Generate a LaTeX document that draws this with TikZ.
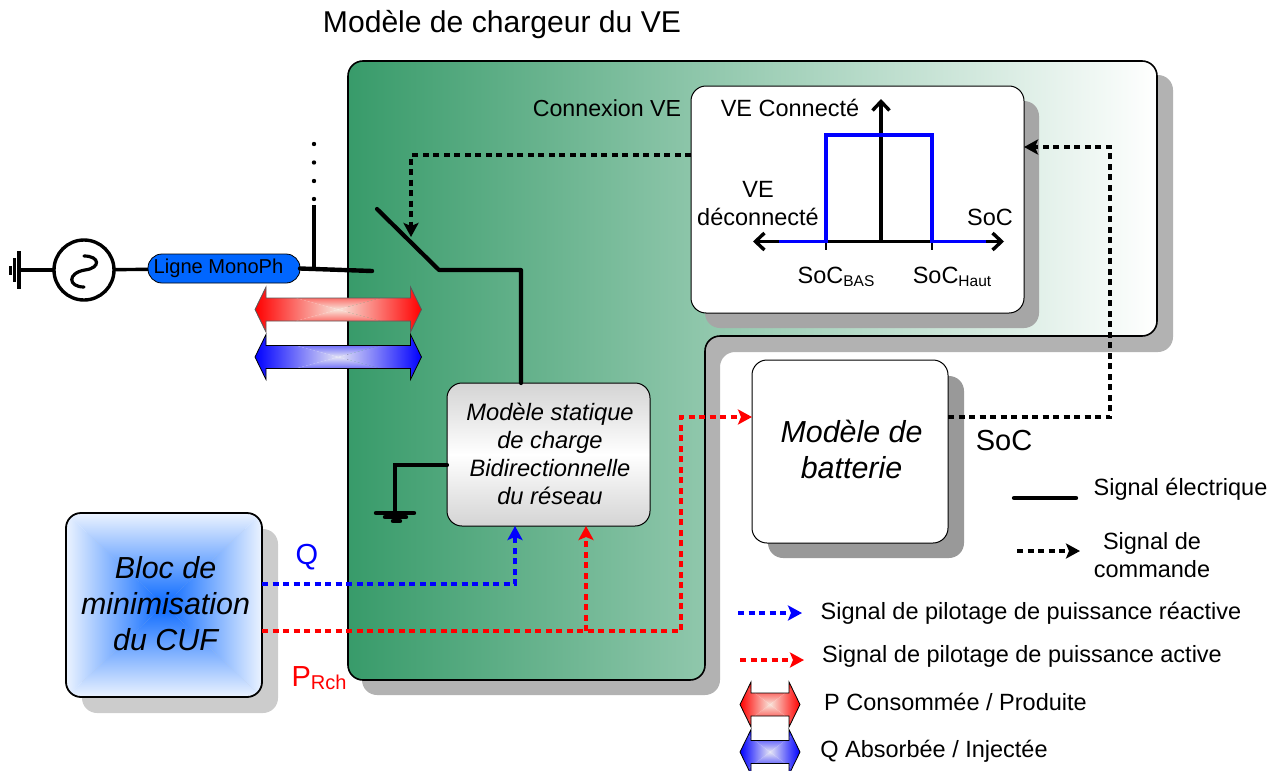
\documentclass[tikz,border=0pt]{standalone}
\usepackage{fontspec}
\setmainfont{Liberation Sans}
\usetikzlibrary{arrows.meta,calc}
\newcommand{\fsz}[2]{\fontsize{#1}{#2}\selectfont}
\newcommand{\rectgrad}[6]{% x1 y1 x2 y2 outer inner
  \shade[top color=#5,bottom color=#6] (#1,#2) -- (#3,#2) -- ({(#1+#3)/2},{(#2+#4)/2}) -- cycle;
  \shade[top color=#6,bottom color=#5] (#1,#4) -- (#3,#4) -- ({(#1+#3)/2},{(#2+#4)/2}) -- cycle;
  \shade[left color=#5,right color=#6] (#1,#2) -- (#1,#4) -- ({(#1+#3)/2},{(#2+#4)/2}) -- cycle;
  \shade[left color=#6,right color=#5] (#3,#2) -- (#3,#4) -- ({(#1+#3)/2},{(#2+#4)/2}) -- cycle;
}
\newcommand{\dblarrowpath}[3]{(#1,#3) -- (#1+11,#3-22.5) -- (#1+11,#3-11.5) -- (#2-11,#3-11.5) -- (#2-11,#3-22.5) -- (#2,#3) -- (#2-11,#3+22.5) -- (#2-11,#3+11.5) -- (#1+11,#3+11.5) -- (#1+11,#3+22.5) -- cycle}
\newcommand{\dblarrow}[6]{% x1 x2 cy outer inner draw
  \begin{scope}
  \clip \dblarrowpath{#1}{#2}{#3};
  \rectgrad{#1}{#3-22.5}{#2}{#3+22.5}{#4}{#5}
  \end{scope}
  \draw[#6,line width=.8pt] \dblarrowpath{#1}{#2}{#3};
}
\definecolor{gA}{RGB}{56,155,106}
\definecolor{shdA}{RGB}{178,178,178}
\definecolor{shdB}{RGB}{166,166,166}
\definecolor{shdC}{RGB}{153,153,153}
\definecolor{shdD}{RGB}{204,204,204}
\definecolor{pill}{RGB}{0,102,255}
\definecolor{midblue}{RGB}{10,105,255}
\definecolor{edgeblue}{RGB}{235,243,255}
\definecolor{redc}{RGB}{248,228,218}
\definecolor{bluec}{RGB}{228,228,245}
\tikzset{
  every node/.style={inner sep=0pt,outer sep=0pt,font=\fsz{23.5}{28},align=center},
  ctrlline/.style={line width=3.4pt,dash pattern=on 6pt off 4.5pt},
  tipA/.style={-{Stealth[length=14pt,width=15pt,inset=3pt]}},
  barbs/.style={>={Straight Barb[length=9pt,width=17pt,line width=3.4pt]}},
  box/.style={draw=black,line width=1pt,rounded corners=15pt,fill=white},
}
\begin{document}
\begin{tikzpicture}[x=1pt,y=-1pt]
\useasboundingbox (0,0) rectangle (1283,771);
% outer L shadow and body
\fill[shdA,rounded corners=15pt] (362,75) -- (1173,75) -- (1173,352) -- (720,352) -- (720,695) -- (362,695) -- cycle;
\shade[left color=gA,right color=white,rounded corners=15pt] (348,61) -- (1157,61) -- (1157,336) -- (705,336) -- (705,680) -- (348,680) -- cycle;
\draw[black,line width=1.6pt,rounded corners=15pt] (348,61) -- (1157,61) -- (1157,336) -- (705,336) -- (705,680) -- (348,680) -- cycle;
% title
\node[font=\fsz{30.1}{36}] (title) at (502,25) {Modèle de chargeur du VE};
\node[font=\fsz{23.2}{28}] (cx) at (607,108) {Connexion VE};
% shadows
\fill[shdB,rounded corners=15pt] (705,101) rectangle (1039,328);
\fill[shdC,rounded corners=15pt] (768,376) rectangle (964,558);
\fill[shdD,rounded corners=15pt] (82,529) rectangle (278,713);
% VE box
\node[box,minimum width=333pt,minimum height=227pt] (ve) at (857.5,199.5) {};
% Graph
\coordinate (axL) at (753,241.5);
\coordinate (axR) at (1004,241.5);
\coordinate (ax0) at (881,241.5);
\coordinate (axT) at (881,99);
\draw[line width=1.5pt] (826,241.5) -- (826,250);
\draw[line width=1.5pt] (932,241.5) -- (932,250);
\draw[line width=3.4pt,barbs,<->] (axL) -- (axR);
\draw[line width=3.4pt,barbs,->] (ax0) -- (axT);
\draw[line width=3.8pt,blue,line join=miter] (779,241.5) -- (826,241.5) -- (826,135) -- (932,135) -- (932,241.5) -- (986,241.5);
\node (l1) at (790,108) {VE Connecté};
\node (l2) at (758,204) {VE\\déconnecté};
\node (l3) at (990,217) {SoC};
\node (l4) at (836,277) {SoC\fontsize{15.5}{18}\selectfont\raisebox{-3pt}{BAS}};
\node (l5) at (952,277) {SoC\fontsize{15.5}{18}\selectfont\raisebox{-3pt}{Haut}};
% Battery
\node[box,minimum width=196pt,minimum height=183pt] (bat) at (850,451.5) {};
\node[font=\fsz{30.4}{36}\itshape] (battxt) at (851.5,449.5) {Modèle de\\batterie};
% static model
\node[draw=black,line width=1pt,rounded corners=15pt,minimum width=203pt,minimum height=143pt,top color=black!17,bottom color=black!17,middle color=white] (stat) at (548.5,454.5) {};
\node[font=\fsz{23.7}{28}\itshape] (stattxt) at (550,453.5) {Modèle statique\\de charge\\Bidirectionnelle\\du réseau};
% Bloc
\begin{scope}
\clip[rounded corners=15pt] (66,513) rectangle (262,697);
\rectgrad{66}{513}{262}{697}{edgeblue}{midblue}
\end{scope}
\node[draw=black,line width=1.8pt,rounded corners=15pt,minimum width=196pt,minimum height=184pt] (bloc) at (164,605) {};
\node[font=\fsz{30.4}{36}\itshape] (bloctxt) at (165.5,604) {Bloc de\\minimisation\\du CUF};
% Source
\node[draw=black,circle,line width=3.4pt,minimum size=60pt] (src) at (84,270) {};
\draw[line width=3.2pt,line cap=round] (84,256) .. controls (100,256) and (101,268) .. (85,270) .. controls (67,273) and (68,287) .. (84,287);
\coordinate (g0) at (19,270);
\draw[line width=3.4pt] (g0) -- (src);
\draw[line width=3.4pt] (19,251) -- (19,289);
\draw[line width=3.4pt] (14.5,258) -- (14.5,282);
\draw[line width=3.4pt] (10.5,266) -- (10.5,275);
\node[draw=black,fill=pill,line width=.8pt,rounded corners=14pt,minimum width=152pt,minimum height=29pt] (ligne) at (224,268.5) {};
\node[font=\fsz{20.1}{24}] (lignetxt) at (218.5,268.5) {Ligne MonoPh};
\draw[line width=3.4pt] (src) -- (ligne);
\coordinate (busend) at (372,271);
\draw[line width=4.4pt,line cap=round] (ligne.east) -- (busend);
\draw[line width=3.2pt] (314,270) -- (314,205);
\foreach \yy in {144,162.5,181,199} \fill (314,\yy) circle (2.2pt);
% switch
\coordinate (sw0) at (377,209);
\coordinate (sw1) at (439,270);
\coordinate (sw2) at (521,270);
\draw[line width=4.2pt,line cap=round,line join=round] (sw0) -- (sw1) -- (sw2) -- (sw2 |- stat.north);
% ground under model
\coordinate (gnd) at (395,513);
\draw[line width=4.2pt,line cap=round] (stat.west |- 0,465) -- (395,465) -- (gnd);
\draw[line width=4.4pt,line cap=round] (376,513) -- (414,513);
\draw[line width=4.4pt,line cap=round] (385,517) -- (406,517);
\draw[line width=4.4pt,line cap=round] (393,521) -- (400,521);
% double arrows
\dblarrow{255}{421.5}{309.5}{red}{redc}{black!65}
\dblarrow{255}{421.5}{357}{blue}{bluec}{black}
\dblarrow{740}{800}{704.5}{red}{redc}{black}
\dblarrow{740}{800}{752}{blue}{bluec}{black}
% control
\coordinate (c1) at (411,155);
\coordinate (c2) at (411,237);
\draw[ctrlline,tipA] (ve.west |- c1) -- (c1) -- (c2);
\coordinate (b1) at (1110,417);
\coordinate (b2) at (1110,147);
\draw[ctrlline,tipA] (bat.east |- b1) -- (b1) -- (b2) -- (ve.east |- b2);
% signals
\coordinate (q1) at (515,584);
\draw[ctrlline,blue,tipA] (bloc.east |- q1) -- (q1) -- (q1 |- stat.south);
\coordinate (r1) at (681,631);
\coordinate (r2) at (681,417);
\coordinate (r3) at (586,631);
\draw[ctrlline,red,tipA] (bloc.east |- r1) -- (r1) -- (r2) -- (bat.west |- r2);
\draw[ctrlline,red,tipA] (r3) -- (r3 |- stat.south);
\node[text=blue,font=\fsz{29}{34}] (qlab) at (307,557) {Q};
\node[text=red,font=\fsz{29}{34}] (plab) at (319,678) {P\fontsize{20}{24}\selectfont\raisebox{-3pt}{Rch}};
\node[font=\fsz{29}{34}] (soc) at (1004,441) {SoC};
% legend
\coordinate (a1) at (1014,498); \coordinate (a2) at (1076,498);
\draw[line width=4.4pt,line cap=round] (a1) -- (a2);
\node (t1) at (1180.5,489.5) {Signal électrique};
\coordinate (a3) at (1017,551); \coordinate (a4) at (1080,551);
\draw[ctrlline,tipA] (a3) -- (a4);
\node (t2) at (1152,555) {Signal de\\commande};
\coordinate (a5) at (738,613); \coordinate (a6) at (802,613);
\draw[ctrlline,blue,tipA] (a5) -- (a6);
\node (t3) at (1031,613.5) {Signal de pilotage de puissance réactive};
\node (t4) at (1022,656.5) {Signal de pilotage de puissance active};
\coordinate (a7) at (740,660); \coordinate (a8) at (804,660);
\draw[ctrlline,red,tipA] (a7) -- (a8);
\node (t5) at (955.5,701.5) {P Consommée / Produite};
\node (t6) at (934,751.5) {Q Absorbée / Injectée};
\end{tikzpicture}
\end{document}
